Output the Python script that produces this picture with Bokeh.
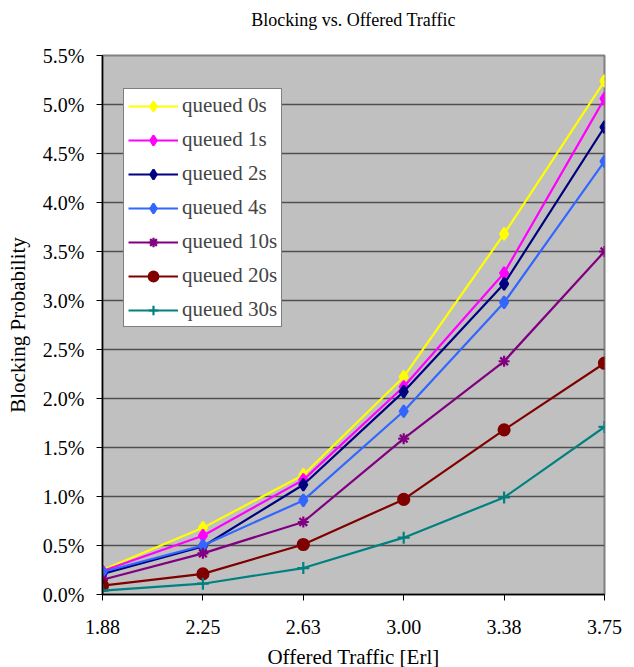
from bokeh.plotting import figure
from bokeh.models import FixedTicker, NumeralTickFormatter, Range1d, Legend, LegendItem, Title
from bokeh.embed import file_html
from bokeh.resources import INLINE

traffic = [1.875, 2.25, 2.625, 3.0, 3.375, 3.75]
traffic_labels = ["1.88", "2.25", "2.63", "3.00", "3.38", "3.75"]

q0 = [0.0025, 0.0068, 0.0122, 0.0222, 0.0368, 0.0524]
q1 = [0.0024, 0.0060, 0.0117, 0.0212, 0.0328, 0.0506]
q2 = [0.0021, 0.0049, 0.0112, 0.0207, 0.0317, 0.0477]
q4 = [0.0023, 0.0050, 0.0096, 0.0187, 0.0298, 0.0442]
q10 = [0.0015, 0.0042, 0.0074, 0.0159, 0.0238, 0.0350]
q20 = [0.0009, 0.0021, 0.0051, 0.0097, 0.0168, 0.0236]
q30 = [0.0004, 0.0011, 0.0027, 0.0058, 0.0099, 0.0171]

series_names = ["queued 0s", "queued 1s", "queued 2s", "queued 4s",
                "queued 10s", "queued 20s", "queued 30s"]
series_vals = [q0, q1, q2, q4, q10, q20, q30]
colors = ["#FFFF00", "#FF00FF", "#000080", "#3366FF", "#800080", "#800000", "#008080"]
markers = ["diamond", "diamond", "diamond", "diamond", "asterisk", "circle", "cross"]
msizes = [12, 12, 12, 12, 11, 11, 12]

y_ticks = [i * 0.005 for i in range(12)]

FONT = "Liberation Serif"

p = figure(width=634, height=671, output_backend="svg", toolbar_location=None,
           x_range=Range1d(traffic[0], traffic[-1]), y_range=Range1d(0, 0.055),
           min_border_left=102, min_border_right=30, min_border_top=55, min_border_bottom=77,
           title=None)

spacer = Title(text=" ", text_font=FONT, text_font_size="17px", standoff=0)
p.add_layout(spacer, "above")
title = Title(text="Blocking vs. Offered Traffic", text_font=FONT, text_font_size="18px",
              text_font_style="normal", align="center", standoff=10, text_color="black")
p.add_layout(title, "above")

p.background_fill_color = "#C0C0C0"
p.border_fill_color = "white"
p.outline_line_color = "#808080"
p.outline_line_width = 2

p.xgrid.grid_line_color = None
p.ygrid.grid_line_color = "#505050"
p.ygrid.grid_line_width = 1.5
p.ygrid.ticker = FixedTicker(ticks=y_ticks)

p.xaxis.ticker = FixedTicker(ticks=traffic)
p.xaxis.major_label_overrides = {t: l for t, l in zip(traffic, traffic_labels)}
p.yaxis.ticker = FixedTicker(ticks=y_ticks)
p.yaxis.formatter = NumeralTickFormatter(format="0.0%")

for ax in (p.xaxis[0], p.yaxis[0]):
    ax.axis_line_color = "black"
    ax.axis_line_width = 1.5
    ax.major_tick_line_color = "black"
    ax.major_tick_out = 6
    ax.major_tick_in = 0
    ax.minor_tick_line_color = None
    ax.major_label_text_font = FONT
    ax.major_label_text_font_size = "20px"
    ax.major_label_text_color = "black"
    ax.axis_label_text_font = FONT
    ax.axis_label_text_font_size = "21px"
    ax.axis_label_text_font_style = "normal"
    ax.axis_label_text_color = "black"

p.xaxis.axis_label = "Offered Traffic [Erl]"
p.yaxis.axis_label = "Blocking Probability"
p.xaxis.major_label_standoff = 19
p.xaxis.axis_label_standoff = 8
p.yaxis.major_label_standoff = 12
p.yaxis.axis_label_standoff = 10

items = []
for name, vals, c, m, s in zip(series_names, series_vals, colors, markers, msizes):
    r1 = p.line(traffic, vals, line_color=c, line_width=2.2)
    r2 = p.scatter(traffic, vals, marker=m, size=s, fill_color=c, line_color=c, line_width=2.2)
    items.append(LegendItem(label=name, renderers=[r1, r2]))

legend = Legend(items=items, location=(21, 267))
legend.label_text_font = FONT
legend.label_text_font_size = "21px"
legend.border_line_color = "black"
legend.border_line_width = 1
legend.background_fill_color = "white"
legend.background_fill_alpha = 1
legend.glyph_width = 50
legend.glyph_height = 24
legend.spacing = 9
legend.padding = 4
legend.margin = 0
legend.label_standoff = 4
p.add_layout(legend, "center")

open("out.html", "w").write(file_html(p, INLINE))
